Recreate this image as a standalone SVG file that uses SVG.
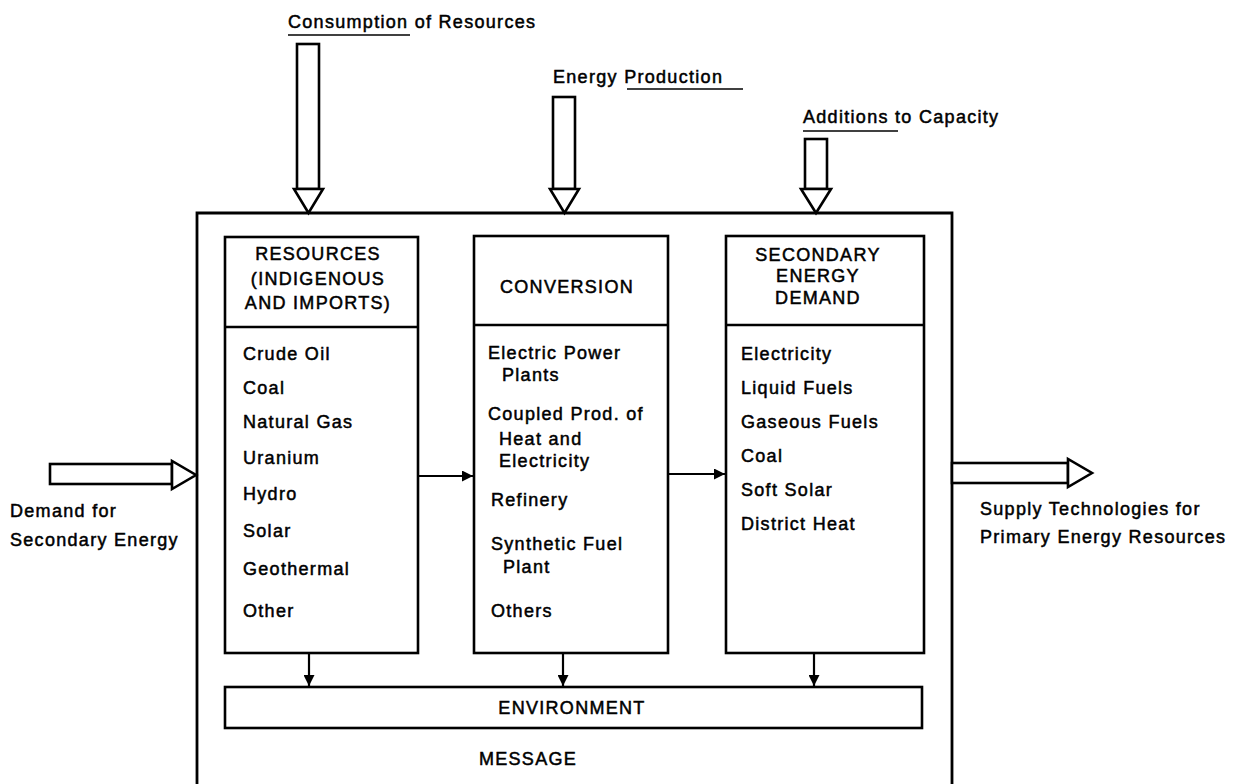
<svg xmlns="http://www.w3.org/2000/svg" width="1241" height="784" viewBox="0 0 1241 784">
<style>
text{font-family:"Liberation Sans",Arial,sans-serif;font-size:18px;letter-spacing:1.3px;fill:#000;stroke:#000;stroke-width:0.5px}
.mid{text-anchor:middle}
.box{fill:#fff;stroke:#000;stroke-width:2.6}
.ln{fill:none;stroke:#000;stroke-width:2.2}
.blk{fill:#fff;stroke:#000;stroke-width:2.6;stroke-linejoin:miter}
.ul{stroke:#000;stroke-width:1.6}
</style>
<defs>
<marker id="ah" viewBox="0 0 10 10" refX="10" refY="5" markerWidth="5" markerHeight="5" orient="auto" markerUnits="strokeWidth">
<path d="M0,0 L10,5 L0,10 z" fill="#000"/>
</marker>
</defs>
<rect width="1241" height="784" fill="#fff"/>

<g id="message">
<path class="ln" d="M197,790 V213 H952 V790" style="stroke-width:2.8"/>
<text class="mid" x="528" y="765">MESSAGE</text>
</g>

<g id="input-consumption">
<rect class="blk" x="297" y="44" width="22" height="145"/>
<polygon class="blk" points="294,189 323,189 308.5,213"/>
<text x="288" y="28">Consumption of Resources</text>
<line class="ul" x1="288" y1="35" x2="410" y2="35"/>
</g>

<g id="input-production">
<rect class="blk" x="553" y="97" width="22" height="92"/>
<polygon class="blk" points="550,189 579,189 564.5,213"/>
<text x="553" y="83">Energy Production</text>
<line class="ul" x1="627" y1="89" x2="743" y2="89"/>
</g>

<g id="input-capacity">
<rect class="blk" x="805" y="139" width="22" height="50"/>
<polygon class="blk" points="801,189 831,189 816,213"/>
<text x="803" y="123">Additions to Capacity</text>
<line class="ul" x1="803" y1="131" x2="898" y2="131"/>
</g>

<g id="input-demand">
<rect class="blk" x="50" y="464" width="122" height="20"/>
<polygon class="blk" points="172,461 172,489 196,475"/>
<text x="10" y="517">Demand for</text>
<text x="10" y="546">Secondary Energy</text>
</g>

<g id="output-supply">
<rect class="blk" x="952" y="463" width="116" height="20"/>
<polygon class="blk" points="1068,459 1068,487 1092,473"/>
<text x="980" y="515">Supply Technologies for</text>
<text x="980" y="543">Primary Energy Resources</text>
</g>

<g id="resources">
<rect class="box" x="225" y="237" width="193" height="416"/>
<line class="ln" x1="225" y1="327" x2="418" y2="327" style="stroke-width:2.6"/>
<text class="mid" x="318" y="260">RESOURCES</text>
<text class="mid" x="318" y="285">(INDIGENOUS</text>
<text class="mid" x="318" y="309">AND IMPORTS)</text>
<text x="243" y="360">Crude Oil</text>
<text x="243" y="394">Coal</text>
<text x="243" y="428">Natural Gas</text>
<text x="243" y="464">Uranium</text>
<text x="243" y="500">Hydro</text>
<text x="243" y="537">Solar</text>
<text x="243" y="575">Geothermal</text>
<text x="243" y="617">Other</text>
</g>

<g id="conversion">
<rect class="box" x="474" y="236" width="194" height="417"/>
<line class="ln" x1="474" y1="325" x2="668" y2="325" style="stroke-width:2.6"/>
<text class="mid" x="567" y="293">CONVERSION</text>
<text x="488" y="359">Electric Power</text>
<text x="502" y="381">Plants</text>
<text x="488" y="420">Coupled Prod. of</text>
<text x="499" y="445">Heat and</text>
<text x="499" y="467">Electricity</text>
<text x="491" y="506">Refinery</text>
<text x="491" y="550">Synthetic Fuel</text>
<text x="503" y="573">Plant</text>
<text x="491" y="617">Others</text>
</g>

<g id="secondary">
<rect class="box" x="726" y="236" width="198" height="417"/>
<line class="ln" x1="726" y1="325" x2="924" y2="325" style="stroke-width:2.6"/>
<text class="mid" x="818" y="261">SECONDARY</text>
<text class="mid" x="818" y="282">ENERGY</text>
<text class="mid" x="818" y="304">DEMAND</text>
<text x="741" y="360">Electricity</text>
<text x="741" y="394">Liquid Fuels</text>
<text x="741" y="428">Gaseous Fuels</text>
<text x="741" y="462">Coal</text>
<text x="741" y="496">Soft Solar</text>
<text x="741" y="530">District Heat</text>
</g>

<g id="environment">
<rect class="box" x="225" y="687" width="697" height="41"/>
<text class="mid" x="572" y="714">ENVIRONMENT</text>
</g>

<g id="connectors">
<line class="ln" x1="418" y1="476" x2="473" y2="476" marker-end="url(#ah)"/>
<line class="ln" x1="668" y1="474" x2="725" y2="474" marker-end="url(#ah)"/>
<line class="ln" x1="309" y1="653" x2="309" y2="686" marker-end="url(#ah)"/>
<line class="ln" x1="563" y1="653" x2="563" y2="686" marker-end="url(#ah)"/>
<line class="ln" x1="814" y1="653" x2="814" y2="686" marker-end="url(#ah)"/>
</g>
</svg>
